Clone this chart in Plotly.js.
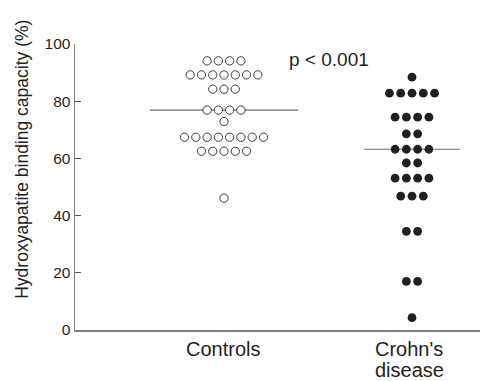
<!DOCTYPE html>
<html>
<head>
<meta charset="utf-8">
<script src="https://cdn.plot.ly/plotly-3.0.1.min.js"></script>
<style>html,body{margin:0;padding:0;background:#fff}#chart{width:480px;height:381px}</style>
</head>
<body>
<div id="chart"></div>
<script>
var categoryLines = [["Controls"], ["Crohn's", "disease"]];
var controlsValues = [94.1,94.1,94.1,94.1, 89.2,89.2,89.2,89.2,89.2,89.2,89.2, 84.2,84.2,84.2,
  76.9,76.9,76.9,76.9, 72.9, 67.4,67.4,67.4,67.4,67.4,67.4,67.4,67.4, 62.5,62.5,62.5,62.5,62.5, 46.1];
var crohnsValues = [88.4, 82.8,82.8,82.8,82.8,82.8, 74.4,74.4,74.4,74.4, 68.6,68.6,
  63.2,63.2,63.2,63.2, 58.4,58.4, 53.1,53.1,53.1,53.1, 46.8,46.8,46.8, 34.5,34.5, 17.0,17.0, 4.3];
var yTicks = [0,20,40,60,80,100];
var yTitle = "Hydroxyapatite binding capacity (%)";
var pText = "p < 0.001";

var dotStep = 0.06;
function swarm(vals, center){
  var counts = {}, seen = {}, xs = [];
  vals.forEach(function(v){ counts[v] = (counts[v]||0)+1; });
  vals.forEach(function(v){
    var i = seen[v]||0; seen[v] = i+1;
    xs.push(center + (i - (counts[v]-1)/2)*dotStep);
  });
  return xs;
}
function median(vals){
  var s = vals.slice().sort(function(a,b){return a-b;});
  var n = s.length;
  return n%2 ? s[(n-1)/2] : (s[n/2-1]+s[n/2])/2;
}
var medC = median(controlsValues), medD = median(crohnsValues);

var traces = [
  {x:[1-0.394, 1+0.394], y:[medC, medC], mode:'lines', line:{color:'#6d6d6d', width:1.2}, hoverinfo:'skip'},
  {x:[2-0.255, 2+0.255], y:[medD, medD], mode:'lines', line:{color:'#6d6d6d', width:1.2}, hoverinfo:'skip'},
  {x:swarm(controlsValues,1), y:controlsValues, mode:'markers', type:'scatter',
   marker:{symbol:'circle', size:8.3, color:'#ffffff', line:{color:'#3a3a3a', width:1}}},
  {x:swarm(crohnsValues,2), y:crohnsValues, mode:'markers', type:'scatter',
   marker:{symbol:'circle', size:8.8, color:'#231f20', line:{width:0}}}
];

var plotTop = 44, plotBottom = 330.5, plotH = plotBottom - plotTop;
function py(px){ return (plotBottom - px)/plotH; }

var annotations = [
  {xref:'paper', yref:'paper', x:(287-75)/405, y:py(59.5), xanchor:'left', yanchor:'middle',
   text:pText, showarrow:false, font:{size:19}},
  {xref:'paper', yref:'paper', x:(22-75)/405, y:py(160), xanchor:'center', yanchor:'middle',
   text:yTitle, textangle:-90, showarrow:false, font:{size:17.5}}
];
var lineY = [350, 371];
var labelShift = [-1, -3];
categoryLines.forEach(function(lines, ci){
  lines.forEach(function(t, li){
    annotations.push({xref:'x', yref:'paper', x:ci+1, y:py(lineY[li]), xanchor:'center', yanchor:'middle',
      xshift:labelShift[ci], text:t, showarrow:false, font:{size:20}});
  });
});

var layout = {
  width:480, height:381,
  margin:{l:75, r:0, t:plotTop, b:381-plotBottom, pad:0},
  showlegend:false,
  paper_bgcolor:'#fff', plot_bgcolor:'#fff',
  font:{family:'Liberation Sans, Arial, sans-serif', color:'#231f20', size:16},
  xaxis:{range:[0.2074, 2.3617], showticklabels:false, ticks:'',
    showgrid:false, zeroline:false, showline:true, linecolor:'#808080', linewidth:1.5, fixedrange:true},
  yaxis:{range:[0,100], tickvals:yTicks, ticks:'inside', ticklen:6, tickcolor:'#555', tickwidth:1,
    showgrid:false, zeroline:false, showline:true, linecolor:'#808080', linewidth:1.5,
    tickfont:{size:15.5}},
  annotations:annotations
};
Plotly.newPlot('chart', traces, layout, {displayModeBar:false, staticPlot:true});
</script>
</body>
</html>
